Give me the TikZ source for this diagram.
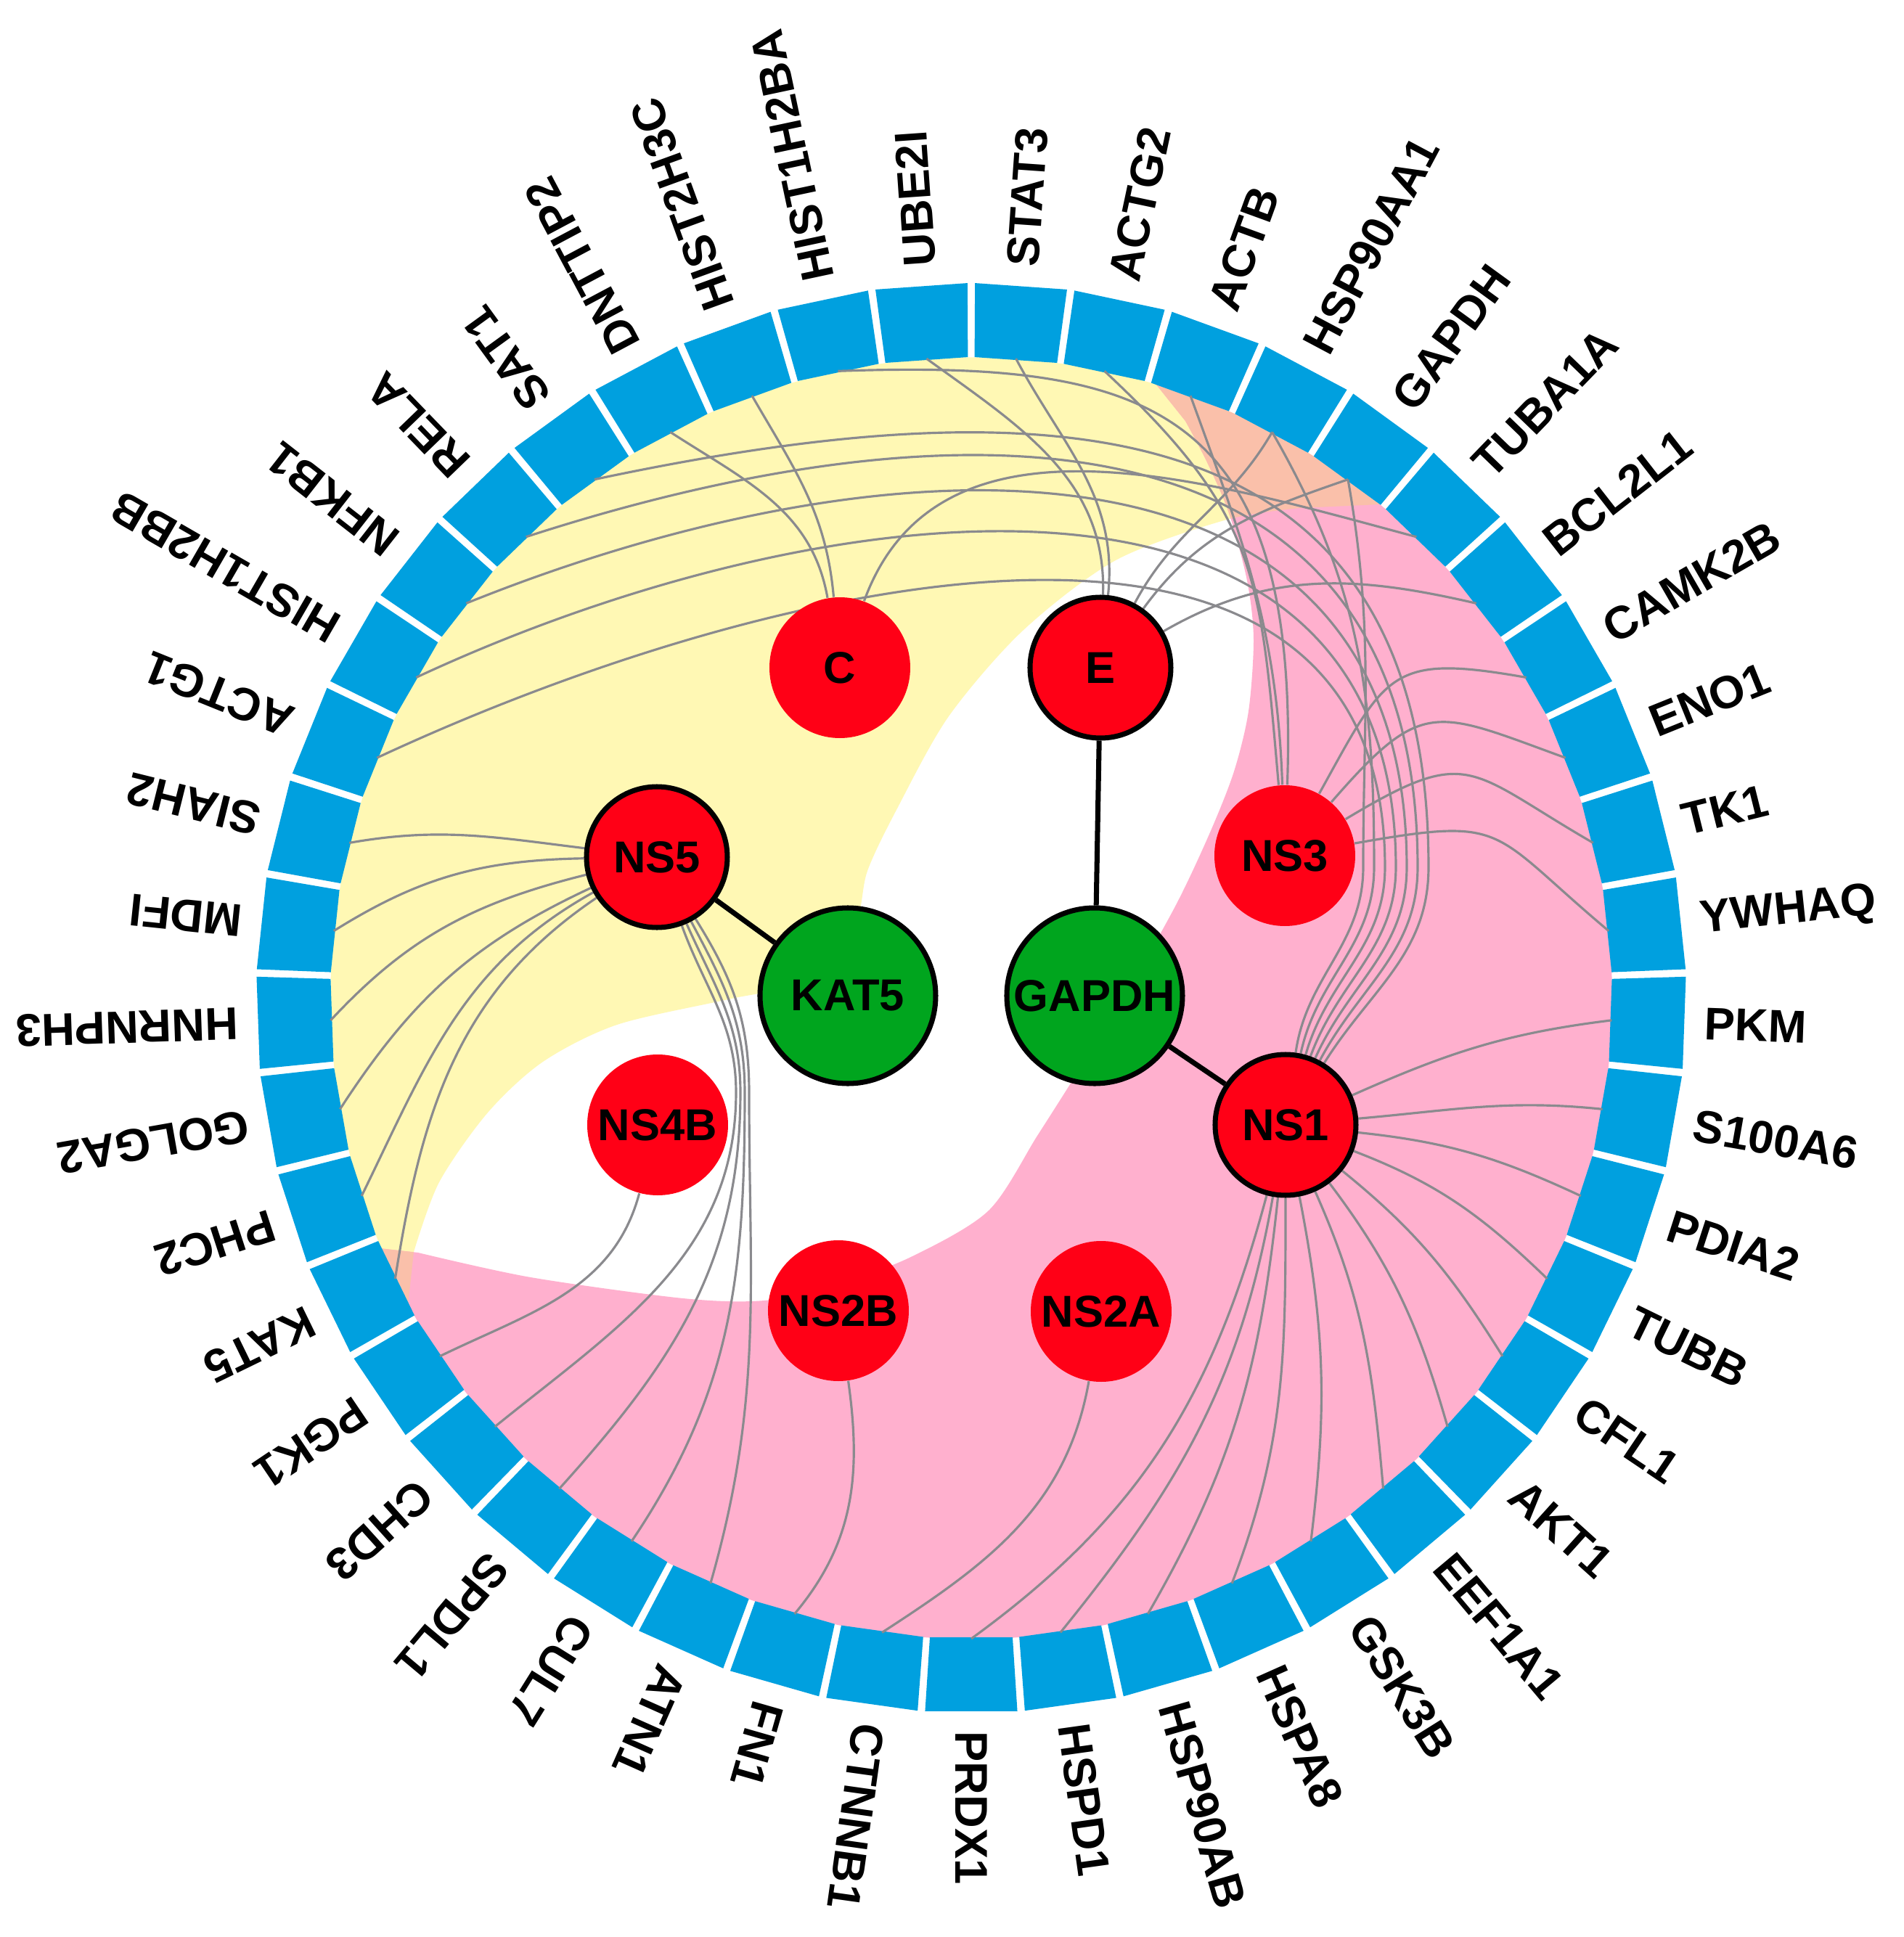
\documentclass[tikz,border=0pt]{standalone}
\usepackage{fontspec}
\setmainfont{Liberation Sans}

\definecolor{segblue}{RGB}{0,160,223}
\definecolor{zoneyellow}{RGB}{255,248,180}
\definecolor{zonepink}{RGB}{255,176,206}
\definecolor{zonesalmon}{RGB}{250,192,170}
\definecolor{protred}{RGB}{255,0,22}
\definecolor{hostgreen}{RGB}{0,165,30}
\definecolor{linkgray}{RGB}{138,138,142}

\pgfdeclarelayer{zones}
\pgfdeclarelayer{links}
\pgfsetlayers{zones,links,main}

% outlines of the two shaded zones
\newcommand{\yellowzone}{(5.63,6.80) arc[start angle=50.4,end angle=208.5,radius=8.83]
  -- plot[smooth] coordinates {(-7.68,-3.50) (-7.33,-2.54) (-6.66,-1.58) (-5.90,-0.88) (-4.88,-0.37)
  (-3.35,-0.02) (-2.2,0.25) (-1.6,1.0) (-1.43,1.75) (-1.02,2.61) (-0.31,3.88) (0.71,5.06)
  (1.99,6.03) (3.52,6.59) (4.53,6.75)} -- cycle}
\newcommand{\pinkzone}{(2.55,8.45) arc[start angle=73.2,end angle=-157,radius=8.83]
  -- plot[smooth] coordinates {(-7.62,-3.51) (-6.07,-3.85) (-3.97,-4.14) (-2.85,-4.17)
  (-1.86,-3.96) (-0.81,-3.56) (0.24,-2.93) (0.91,-1.90) (1.45,-1.05) (2.1,0.0) (2.82,1.28)
  (3.29,2.28) (3.62,3.12) (3.82,3.95) (3.89,4.95) (3.80,5.75) (3.55,6.68) (3.25,7.38)
  (2.95,7.95)} -- cycle}

\begin{document}
\begin{tikzpicture}[
  viral/.style={circle, fill=protred, minimum size=1.94cm, inner sep=0pt, font=\fontsize{17.5}{20}\selectfont\bfseries},
  viralhub/.style={viral, draw=black, line width=2pt},
  host/.style={circle, fill=hostgreen, draw=black, line width=2pt, minimum size=2.42cm, inner sep=0pt, font=\fontsize{17.5}{20}\selectfont\bfseries},
  link/.style={draw=linkgray, line width=0.9pt},
  bond/.style={draw=black, line width=2pt},
  genelabel/.style={anchor=west, inner sep=0pt, font=\fontsize{18}{20}\selectfont\bfseries},
  seg/.style={fill=segblue}]

\useasboundingbox (-13.38,-12.94) rectangle (12.85,13.75);

\begin{pgfonlayer}{zones}
  \fill[white] (-13.38,-12.94) rectangle (12.85,13.75);
  \fill[zoneyellow] \yellowzone;
  \fill[zonepink] \pinkzone;
  \begin{scope}
    \clip \yellowzone;
    \fill[zonesalmon] \pinkzone;
  \end{scope}
  % ring of host genes
  \foreach \g [count=\i from 0] in {STAT3,ACTG2,ACTB,HSP90AA1,GAPDH,TUBA1A,BCL2L1,CAMK2B,ENO1,TK1,YWHAQ,PKM,S100A6,PDIA2,TUBB,CFL1,AKT1,EEF1A1,GSK3B,HSPA8,HSP90AB,HSPD1,PRDX1,CTNNB1,FN1,ATN1,CUL7,SPDL1,CHD3,PGK1,KAT5,PHC2,GOLGA2,HNRNPH3,MDFI,SIAH2,ACTG1,HIST1H2BB,NFKB1,RELA,SAT1,DNTTIP2,HIST2H3C,HIST1H2BA,UBE2I} {
    \pgfmathsetmacro{\a}{86-8*\i}
    \fill[seg] ({\a-3.7}:8.83) -- ({\a-3.7}:9.85) -- ({\a+3.7}:9.85) -- ({\a+3.7}:8.83) -- cycle;
    \coordinate (g-\g) at (\a:8.83);
    \node[genelabel, rotate=\a] (lbl-\g) at (\a:10.1) {\g};
  }
\end{pgfonlayer}

% viral proteins and host hubs
\node[viral] (C) at (-1.81,4.55) {C};
\node[viralhub] (E) at (1.78,4.55) {E};
\node[viralhub] (NS5) at (-4.33,1.94) {NS5};
\node[viral] (NS3) at (4.32,1.96) {NS3};
\node[host] (KAT5) at (-1.70,0.03) {KAT5};
\node[host] (GAPDH) at (1.70,0.03) {GAPDH};
\node[viral] (NS4B) at (-4.32,-1.75) {NS4B};
\node[viralhub] (NS1) at (4.33,-1.75) {NS1};
\node[viral] (NS2B) at (-1.83,-4.31) {NS2B};
\node[viral] (NS2A) at (1.79,-4.32) {NS2A};

\draw[bond] (E) -- (GAPDH);
\draw[bond] (NS5) -- (KAT5);
\draw[bond] (GAPDH) -- (NS1);

\begin{pgfonlayer}{links}
  \foreach \g/\o/\n in {DNTTIP2/100/-33, HIST2H3C/95/-60, TUBA1A/70/165}
    \draw[link] (C) to[out=\o,in=\n] (g-\g);
  \foreach \g/\o/\n in {UBE2I/88/-36, STAT3/84/-62, HSP90AA1/62/-120, GAPDH/54/199, BCL2L1/30/167}
    \draw[link] (E) to[out=\o,in=\n] (g-\g);
  \foreach \g/\o/\n in {CAMK2B/61/170, ENO1/49/160, TK1/31/150, YWHAQ/10/140}
    \draw[link] (NS3) to[out=\o,in=\n,looseness=1.5] (g-\g);
  \draw[link] (NS3) to[out=95,in=-43,looseness=1.2] (g-ACTG2);
  \draw[link] (NS3) to[out=92,in=-70] (g-ACTB);
  \draw[link] (NS3) to[out=88,in=2,out looseness=1.6,in looseness=1.3] (g-HIST1H2BA);
  % NS1 bundle up the right side
  \foreach \g/\lane/\o/\n/\lo in {SAT1/6.30/58/12/1.3, RELA/6.15/62/18/1.25, NFKB1/6.00/66/22/1.2, HIST1H2BB/5.85/70/25/1.15, ACTG1/5.70/74/25/1.1, HSP90AA1/5.55/78/-60/1, GAPDH/5.40/82/-80/1}
    \draw[link] (NS1) to[out=\o,in=-90] (\lane,1.8) to[out=90,in=\n,looseness=\lo] (g-\g);
  \foreach \g/\o/\n in {PKM/24/187, S100A6/5/174, PDIA2/-6/155, TUBB/-21/136, CFL1/-39/122, AKT1/-53/106, EEF1A1/-66/95, GSK3B/-79/83, HSPA8/-90/69, HSP90AB/-96/60, HSPD1/-100/51, PRDX1/-105/36}
    \draw[link] (NS1) to[out=\o,in=\n] (g-\g);
  \foreach \g/\o/\n in {SIAH2/173/10, MDFI/181/32, HNRNPH3/194/47, GOLGA2/205/57, PHC2/209/64, KAT5/214/81}
    \draw[link] (NS5) to[out=\o,in=\n] (g-\g);
  % NS5 bundle down the left side
  \foreach \g/\lane/\o/\n in {CHD3/-3.24/-70/39, SPDL1/-3.18/-66/48, CUL7/-3.12/-62/56, ATN1/-3.06/-58/74}
    \draw[link] (NS5) to[out=\o,in=90] (\lane,-1.3) to[out=-90,in=\n] (g-\g);
  \draw[link] (NS4B) to[out=-105,in=26] (g-PGK1);
  \draw[link] (NS2B) to[out=-82,in=50] (g-FN1);
  \draw[link] (NS2A) to[out=-100,in=33] (g-CTNNB1);
\end{pgfonlayer}

\end{tikzpicture}
\end{document}
